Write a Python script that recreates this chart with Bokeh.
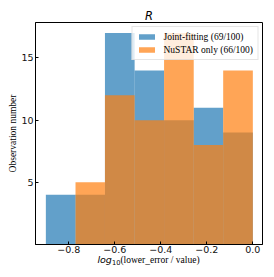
from bokeh.plotting import figure
from bokeh.models import FixedTicker, Legend, Div
from bokeh.layouts import column
from bokeh.embed import file_html
from bokeh.resources import INLINE

# ---- data ----
bin_edges = [-0.9, -0.771, -0.643, -0.514, -0.386, -0.257, -0.129, 0.0]
joint_counts = [4, 4, 17, 14, 10, 11, 9]
nustar_counts = [0, 5, 12, 10, 17, 8, 14]
series_labels = ["Joint-fitting (69/100)", "NuSTAR only (66/100)"]
x_ticks = [-0.8, -0.6, -0.4, -0.2, 0.0]
x_tick_labels = ["\u22120.8", "\u22120.6", "\u22120.4", "\u22120.2", "0.0"]
y_ticks = [5, 10, 15]
title_text = "R"
ylabel_text = "Observation number"
xlabel_log = "log"
xlabel_sub = "10"
xlabel_rest = "(lower_error / value)"

BLUE = "#1f77b4"
ORANGE = "#ff7f0e"
SANS = "DejaVu Sans"
SERIF = "Liberation Serif"

p = figure(width=274, height=258, x_range=(-0.945, 0.042), y_range=(0, 17.85),
           output_backend="svg", toolbar_location=None,
           min_border_left=35, min_border_right=12, min_border_top=22, min_border_bottom=14)
p.background_fill_color = "white"
p.border_fill_color = "white"
p.outline_line_color = "black"
p.outline_line_width = 1
p.outline_line_alpha = 1.0
p.xgrid.visible = False
p.ygrid.visible = False

p.title.text = title_text
p.title.text_font = SANS
p.title.text_font_style = "italic"
p.title.text_font_size = "11.5px"
p.title.text_color = "black"
p.title.align = "center"
p.title.standoff = 0

left = bin_edges[:-1]
right = bin_edges[1:]
r1 = p.quad(left=left, right=right, bottom=0, top=joint_counts,
            fill_color=BLUE, fill_alpha=0.7, line_color=None)
r2 = p.quad(left=left, right=right, bottom=0, top=nustar_counts,
            fill_color=ORANGE, fill_alpha=0.7, line_color=None)

legend = Legend(items=[(series_labels[0], [r1]), (series_labels[1], [r2])],
                location="top_right")
legend.margin = 4
legend.padding = 4
legend.spacing = 2
legend.glyph_width = 20
legend.glyph_height = 7
legend.label_height = 11
legend.label_standoff = 7
legend.label_text_font = SERIF
legend.label_text_font_size = "9.5px"
legend.label_text_color = "black"
legend.label_text_baseline = "middle"
legend.border_line_color = "#cccccc"
legend.border_line_width = 1
legend.background_fill_color = "white"
legend.background_fill_alpha = 0.8
p.add_layout(legend, "center")

for ax in (p.xaxis[0], p.yaxis[0]):
    ax.axis_line_color = "black"
    ax.major_tick_line_color = "black"
    ax.major_tick_in = 3
    ax.major_tick_out = 0
    ax.minor_tick_line_color = None
    ax.major_label_text_font = SANS
    ax.major_label_text_font_size = "9.5px"
    ax.major_label_text_color = "#111111"

p.xaxis.ticker = FixedTicker(ticks=x_ticks)
p.xaxis.major_label_overrides = {t: s for t, s in zip(x_ticks, x_tick_labels)}
p.xaxis.major_label_standoff = 1
p.yaxis.ticker = FixedTicker(ticks=y_ticks)
p.yaxis.major_label_standoff = 2
p.yaxis.axis_label = ylabel_text
p.yaxis.axis_label_text_font = SERIF
p.yaxis.axis_label_text_font_style = "normal"
p.yaxis.axis_label_text_font_size = "9.5px"
p.yaxis.axis_label_text_color = "black"
p.yaxis.axis_label_standoff = 0

xlabel_html = (
    '<div style="position:relative; top:-7px; margin-left:35px; width:227px; '
    'text-align:center; line-height:10px; white-space:nowrap; color:black;">'
    f'<span style="font-family:\'{SANS}\'; font-style:italic; font-size:9.5px;">{xlabel_log}</span>'
    f'<span style="font-family:\'{SANS}\'; font-style:normal; font-size:6.7px; vertical-align:-2px;">{xlabel_sub}</span>'
    f'<span style="font-family:\'{SERIF}\'; font-size:9.5px;">{xlabel_rest}</span>'
    '</div>'
)
xdiv = Div(text=xlabel_html, width=274, height=19, margin=0)

layout = column(p, xdiv, spacing=0, margin=0)
open("out.html", "w").write(file_html(layout, INLINE))
